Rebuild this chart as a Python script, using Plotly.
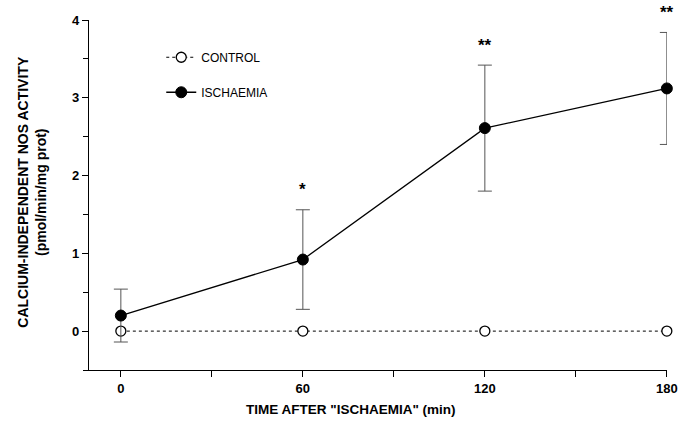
import plotly.graph_objects as go

time_min = [0, 60, 120, 180]
control = [0.0, 0.0, 0.0, 0.0]
ischaemia = [0.20, 0.92, 2.61, 3.12]
ischaemia_err = [0.34, 0.64, 0.81, 0.72]
sig_labels = ["", "*", "**", "**"]
x_ticks = [0, 60, 120, 180]
y_ticks = [0, 1, 2, 3, 4]

FONT = "Liberation Sans, Arial, sans-serif"

fig = go.Figure()
fig.add_trace(go.Scatter(
    x=time_min, y=control, name="CONTROL", mode="lines+markers",
    line=dict(color="black", width=1, dash="dot"),
    marker=dict(symbol="circle", size=10, color="white", line=dict(color="black", width=1.3)),
    cliponaxis=False, legendgroup="c",
))
fig.add_trace(go.Scatter(
    x=time_min, y=ischaemia, name="ISCHAEMIA", mode="lines+markers",
    line=dict(color="black", width=1.3),
    marker=dict(symbol="circle", size=11, color="black", line=dict(color="black", width=1)),
    error_y=dict(type="data", array=ischaemia_err, visible=True, color="#555555", thickness=1, width=7),
    cliponaxis=False, legendgroup="i",
))

for x, lab, y, e in zip(time_min, sig_labels, ischaemia, ischaemia_err):
    if lab:
        fig.add_annotation(x=x, y=y + e, yshift=20, text="<b>" + lab + "</b>", showarrow=False,
                           font=dict(family=FONT, size=17, color="black"))

fig.add_annotation(xref="paper", yref="paper", x=0.453, y=-0.114, xanchor="center", yanchor="middle",
                   text="TIME AFTER \"ISCHAEMIA\" (min)", showarrow=False,
                   font=dict(family=FONT, size=13.5, color="black", weight="bold"))
fig.add_annotation(xref="paper", yref="paper", x=-0.1, y=0.51, xanchor="center", yanchor="middle",
                   textangle=-90, text="CALCIUM-INDEPENDENT NOS ACTIVITY<br>(pmol/min/mg prot)",
                   showarrow=False,
                   font=dict(family=FONT, size=14, color="black", weight="bold"))

fig.update_layout(
    width=680, height=425,
    margin=dict(l=89, r=13, t=20, b=55),
    paper_bgcolor="white", plot_bgcolor="white",
    font=dict(family=FONT, color="black"),
    showlegend=True,
    legend=dict(x=0.125, y=0.935, xanchor="left", yanchor="top",
                font=dict(family=FONT, size=12, color="black"),
                bgcolor="rgba(0,0,0,0)", tracegroupgap=16),
    xaxis=dict(range=[-10.5, 180.05], tickvals=x_ticks, ticktext=[str(v) for v in x_ticks],
               automargin=False,
               showline=True, linecolor="black", linewidth=1.2, ticks="outside",
               ticklen=6, tickcolor="black", showgrid=False, zeroline=False,
               minor=dict(dtick=30, tick0=0, ticks="outside", ticklen=6, tickcolor="black"),
               tickfont=dict(family=FONT, size=13, weight="bold")),
    yaxis=dict(range=[-0.5, 4], tickvals=y_ticks, ticktext=[str(v) for v in y_ticks],
               automargin=False,
               showline=True, linecolor="black", linewidth=1.2, ticks="outside",
               ticklen=6, tickcolor="black", showgrid=False, zeroline=False,
               minor=dict(dtick=0.5, tick0=0, ticks="outside", ticklen=5, tickcolor="black"),
               tickfont=dict(family=FONT, size=13, weight="bold")),
)

fig.write_html("out.html", config={"displayModeBar": False},
               post_script="document.body.style.margin='0';document.body.style.overflow='hidden';")
